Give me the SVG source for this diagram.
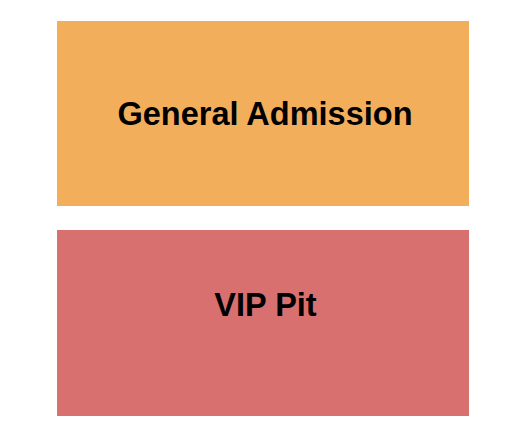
<svg xmlns="http://www.w3.org/2000/svg" width="525" height="444" viewBox="0 0 525 444">
<style>
.lbl{font-family:"Liberation Sans",Arial,sans-serif;font-weight:bold;font-size:32.5px;fill:#000;text-anchor:middle}
</style>
<rect width="525" height="444" fill="#fff"/>
<g id="general-admission">
<rect x="57" y="21" width="412" height="185" fill="#F3AE5B"/>
<text class="lbl" x="265" y="125">General Admission</text>
</g>
<g id="vip-pit">
<rect x="57" y="230" width="412" height="186" fill="#D87070"/>
<text class="lbl" x="265.5" y="316">VIP Pit</text>
</g>
<g id="connectors"></g>
</svg>
